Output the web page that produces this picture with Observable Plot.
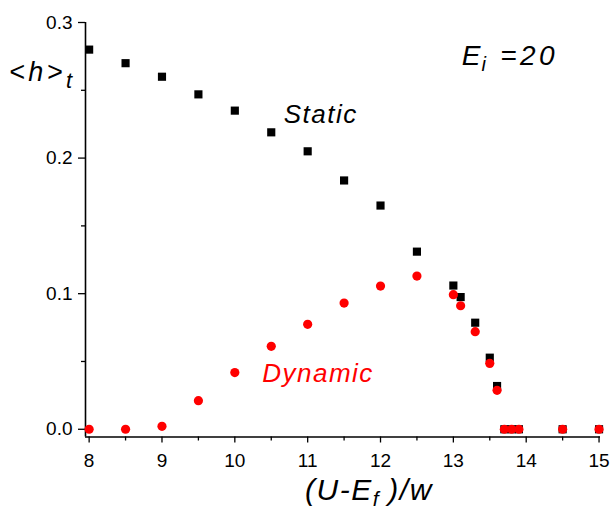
<!DOCTYPE html>
<html>
<head>
<meta charset="utf-8">
<script src="https://cdn.jsdelivr.net/npm/d3@7"></script>
<script src="https://cdn.jsdelivr.net/npm/@observablehq/plot@0.6"></script>
<style>
  html, body { margin: 0; padding: 0; background: #fff; }
  #chart svg { display: block; }
</style>
</head>
<body>
<div id="chart"></div>
<script>
// x values: (U - E_f)/w
const xValues = [8, 8.5, 9, 9.5, 10, 10.5, 11, 11.5, 12, 12.5, 13, 13.1, 13.3, 13.5, 13.6, 13.7, 13.8, 13.9, 14.5, 15];
// <h>_t, Static series (black squares)
const staticValues = [0.280, 0.270, 0.260, 0.247, 0.235, 0.219, 0.205, 0.1835, 0.165, 0.131, 0.106, 0.0975, 0.0786, 0.0528, 0.0319, 0, 0, 0, 0, 0];
// <h>_t, Dynamic series (red circles)
const dynamicValues = [0, 0, 0.0022, 0.0211, 0.0418, 0.0612, 0.0774, 0.0931, 0.1056, 0.113, 0.0993, 0.0911, 0.072, 0.0486, 0.0287, 0, 0, 0, 0, 0];

const xMajorTicks = [8, 9, 10, 11, 12, 13, 14, 15];
const xMinorTicks = [8.5, 9.5, 10.5, 11.5, 12.5, 13.5, 14.5];
const yMajorTicks = [0, 0.1, 0.2, 0.3];
const yMinorTicks = [0.05, 0.15, 0.25];

const seriesLabels = [
  {text: "Static", x: 10.672, y: 0.2257, color: "#000"},
  {text: "Dynamic", x: 10.376, y: 0.0347, color: "#ff0000"}
];
const paramLabel = {x: 13.122, y: 0.2683};

const staticData = xValues.map((x, i) => ({x, y: staticValues[i]}));
const dynamicData = xValues.map((x, i) => ({x, y: dynamicValues[i]}));

const xDomain = [7.95, 15.02];
const yDomain = [-0.0057, 0.3];
const FONT = "'Liberation Sans', Arial, Helvetica, sans-serif";

const plot = Plot.plot({
  width: 611,
  height: 510,
  marginLeft: 85,
  marginRight: 11,
  marginTop: 22,
  marginBottom: 73.5,
  style: {fontFamily: FONT, fontSize: "19px", background: "#fff", color: "#000"},
  x: {domain: xDomain, axis: null},
  y: {domain: yDomain, axis: null},
  marks: [
    Plot.axisX({ticks: xMajorTicks, tickSize: 6, tickPadding: 10, tickFormat: d => String(d), label: null, fontSize: 19, strokeWidth: 1.3}),
    Plot.axisX({ticks: xMinorTicks, tickSize: 4, tickFormat: () => "", label: null, strokeWidth: 1.3}),
    Plot.axisY({ticks: yMajorTicks, tickSize: 7, tickPadding: 6, tickFormat: d3.format(".1f"), label: null, fontSize: 19, strokeWidth: 1.3}),
    Plot.axisY({ticks: yMinorTicks, tickSize: 4, tickFormat: () => "", label: null, strokeWidth: 1.3}),
    Plot.ruleX([xDomain[0]], {stroke: "#000", strokeWidth: 1.6}),
    Plot.ruleY([yDomain[0]], {stroke: "#000", strokeWidth: 1.6}),
    Plot.dot(staticData, {x: "x", y: "y", symbol: "square", r: 4.6, fill: "#000", stroke: null}),
    Plot.dot(dynamicData, {x: "x", y: "y", symbol: "circle", r: 4.6, fill: "#ff0000", stroke: null}),
    Plot.text(seriesLabels, {x: "x", y: "y", text: "text", fill: "color", fontSize: 26, fontStyle: "italic", textAnchor: "start", lineAnchor: "bottom", className: "series-label"})
  ]
});

document.getElementById("chart").appendChild(plot);

const svg = d3.select(plot);
svg.selectAll(".series-label text").attr("letter-spacing", 1.5);
const sx = plot.scale("x"), sy = plot.scale("y");

// E_i = 20 annotation
const ei = svg.append("text")
  .attr("x", sx.apply(paramLabel.x)).attr("y", sy.apply(paramLabel.y))
  .attr("text-anchor", "start")
  .attr("font-family", FONT).attr("font-size", 28).attr("font-style", "italic").attr("fill", "#000");
ei.append("tspan").text("E");
ei.append("tspan").attr("font-size", 20).attr("dy", 6).attr("dx", 1).text("i");
ei.append("tspan").attr("dy", -6).attr("dx", 3).text(" =20").attr("letter-spacing", 3.5);

// y-axis title <h>_t
const yt = svg.append("text")
  .attr("x", 9).attr("y", 81)
  .attr("text-anchor", "start")
  .attr("font-family", FONT).attr("font-size", 27).attr("font-style", "italic").attr("fill", "#000");
yt.append("tspan").text("<h>").attr("letter-spacing", 3.5);
yt.append("tspan").attr("font-size", 22).attr("dy", 7).text("t");

// x-axis title (U-E_f)/w
const xt = svg.append("text")
  .attr("x", 305).attr("y", 500)
  .attr("text-anchor", "start")
  .attr("font-family", FONT).attr("font-size", 30).attr("font-style", "italic").attr("fill", "#000");
xt.append("tspan").text("(U-E").attr("letter-spacing", 1.5);
xt.append("tspan").attr("font-size", 21).attr("dy", 6).text("f");
xt.append("tspan").attr("dy", -6).text(" )/w").attr("letter-spacing", 1.5);
</script>
</body>
</html>
